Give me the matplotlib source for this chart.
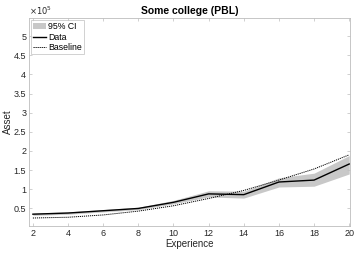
import numpy as np
import matplotlib.pyplot as plt

plt.rcParams['font.family'] = ['Liberation Sans', 'DejaVu Sans']

experience = [2, 4, 6, 8, 10, 12, 14, 16, 18, 20]
data = [0.35, 0.38, 0.44, 0.50, 0.66, 0.88, 0.86, 1.19, 1.24, 1.66]
ci_low = [0.32, 0.35, 0.41, 0.47, 0.62, 0.80, 0.77, 1.06, 1.08, 1.40]
ci_high = [0.38, 0.41, 0.47, 0.53, 0.71, 0.96, 0.95, 1.30, 1.42, 1.88]
baseline = [0.25, 0.27, 0.33, 0.43, 0.57, 0.76, 0.97, 1.24, 1.53, 1.90]

scale = 1e5
yticks = [0.5, 1, 1.5, 2, 2.5, 3, 3.5, 4, 4.5, 5]

fig = plt.figure(figsize=(3.54, 2.54), dpi=100)
ax = fig.add_axes([0.082, 0.110, 0.907, 0.819])

x = np.array(experience)
ax.fill_between(x, np.array(ci_low) * scale, np.array(ci_high) * scale,
                color='#c8c8c8', linewidth=0, label='95% CI')
ax.plot(x, np.array(data) * scale, color='black', lw=1.0, label='Data')
ax.plot(x, np.array(baseline) * scale, color='black', lw=0.7,
        linestyle=(0, (1.2, 0.9)), label='Baseline')

ax.set_xlim(1.78, 20.05)
ax.set_ylim(0.04 * scale, 5.47 * scale)
ax.set_xticks(experience)
ax.set_yticks([v * scale for v in yticks])
ax.set_yticklabels([f'{v:g}' for v in yticks])

gray = '#262626'
for s in ax.spines.values():
    s.set_color('#bdbdbd')
    s.set_linewidth(0.6)
ax.tick_params(direction='in', length=2.5, width=0.5, colors='#bdbdbd',
               labelcolor=gray, labelsize=6.5, top=True, right=True, pad=2)

ax.set_xlabel('Experience', fontsize=7, color=gray, labelpad=1)
ax.set_ylabel('Asset', fontsize=7, color=gray)
ax.yaxis.set_label_coords(-0.05, 0.5)
ax.set_title('Some college (PBL)', fontsize=7.5, fontweight='bold', pad=3)
ax.text(0, 1.005, r'$\times10^5$', transform=ax.transAxes, fontsize=6,
        color=gray, ha='left', va='bottom')

leg = ax.legend(loc='upper left', fontsize=6.3, frameon=True, fancybox=False,
                borderpad=0.25, handlelength=1.4, handletextpad=0.3,
                labelspacing=0.15, borderaxespad=0.25)
leg.get_frame().set_edgecolor('#bdbdbd')
leg.get_frame().set_linewidth(0.6)

fig.savefig('out.png', dpi=100)
